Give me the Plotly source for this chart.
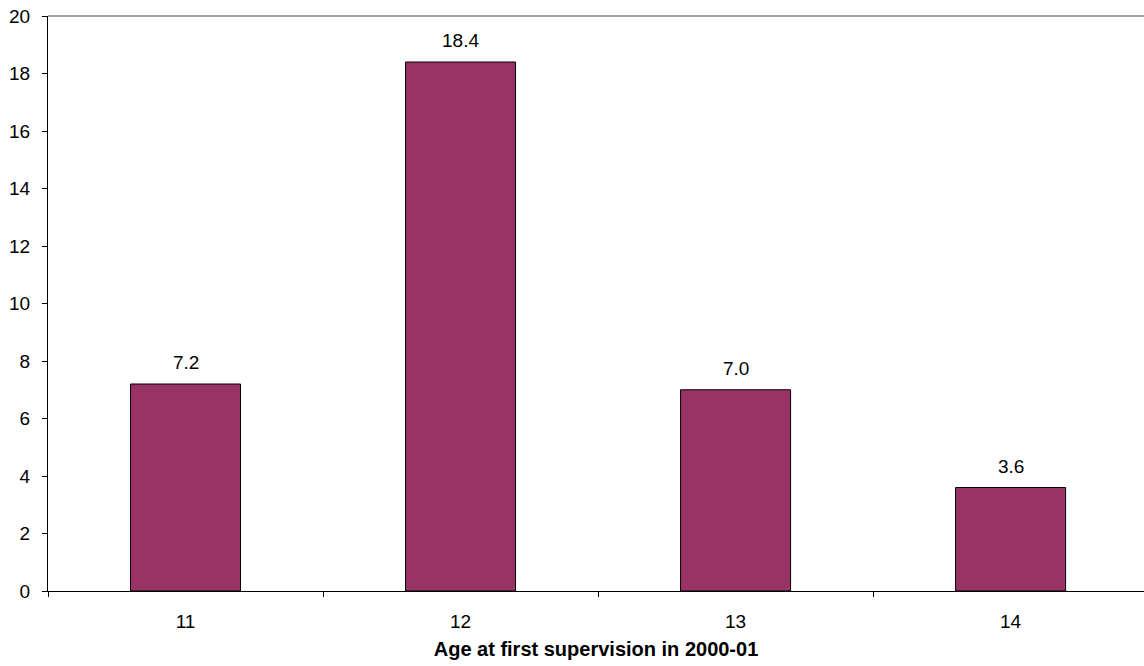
import plotly.graph_objects as go

categories = ["11", "12", "13", "14"]
values = [7.2, 18.4, 7.0, 3.6]
value_labels = ["7.2", "18.4", "7.0", "3.6"]
y_ticks = [0, 2, 4, 6, 8, 10, 12, 14, 16, 18, 20]
x_title = "Age at first supervision in 2000-01"

FONT = "Liberation Sans, Arial, sans-serif"

fig = go.Figure(
    go.Bar(
        x=categories,
        y=values,
        marker=dict(color="#993366", line=dict(color="#000000", width=1)),
        width=0.4,
        hoverinfo="x+y",
    )
)

# data labels: category axis positions are the category indices
for idx, (val, lab) in enumerate(zip(values, value_labels)):
    fig.add_annotation(
        x=idx, y=val, xref="x", yref="y", text=lab, showarrow=False,
        yanchor="bottom", yshift=9,
        font=dict(family=FONT, size=19, color="#000000"),
    )

fig.update_layout(
    width=1144,
    height=666,
    margin=dict(l=48, r=0, t=16, b=75),
    paper_bgcolor="white",
    plot_bgcolor="white",
    showlegend=False,
    font=dict(family=FONT, size=19, color="#000000"),
    xaxis=dict(
        type="category",
        range=[-0.5, 3.485],
        showline=True,
        linecolor="#000000",
        linewidth=1,
        ticks="outside",
        tickson="boundaries",
        ticklen=5,
        tickcolor="#000000",
        ticklabelstandoff=13,
        showgrid=False,
        tickfont=dict(family=FONT, size=19),
        title=dict(text="<b>" + x_title + "</b>", font=dict(family=FONT, size=20), standoff=11),
    ),
    yaxis=dict(
        range=[0, 20],
        tickvals=y_ticks,
        showline=True,
        linecolor="#000000",
        linewidth=1,
        ticks="outside",
        ticklen=5,
        tickcolor="#000000",
        ticklabelstandoff=8,
        ticklabeloverflow="allow",
        showgrid=False,
        zeroline=False,
        tickfont=dict(family=FONT, size=19),
    ),
    shapes=[
        dict(type="line", xref="x domain", yref="y domain", x0=0, x1=1, y0=1, y1=1,
             line=dict(color="#808080", width=1.5))
    ],
)

fig.write_html(
    "out.html",
    config={"displayModeBar": False},
    post_script="document.body.style.margin='0';",
)
